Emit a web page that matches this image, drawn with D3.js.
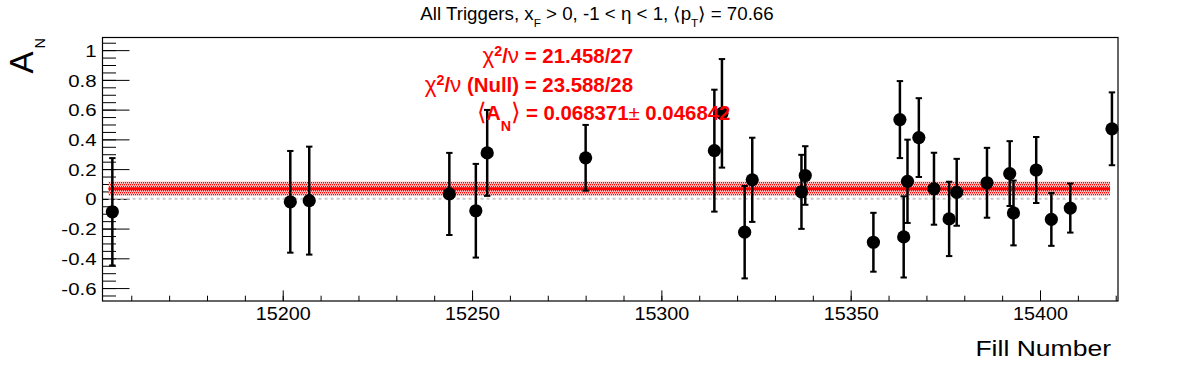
<!DOCTYPE html>
<html>
<head>
<meta charset="utf-8">
<script src="https://cdn.jsdelivr.net/npm/d3@7"></script>
<style>
body { margin: 0; background: #fff; }
text { font-family: "Liberation Sans", Arial, Helvetica, sans-serif; }
</style>
</head>
<body>
<svg id="chart"></svg>
<script>
// fill numbers, asymmetry and its error
var fills = [15155, 15202, 15207, 15244, 15251, 15254, 15280, 15314, 15316, 15322,
             15324, 15337, 15338, 15356, 15363, 15364, 15365, 15368, 15372, 15376,
             15378, 15386, 15392, 15393, 15399, 15403, 15408, 15419];
var asym = [-0.087, -0.020, -0.012, 0.033, -0.080, 0.309, 0.276, 0.324, 0.575, -0.224,
            0.128, 0.047, 0.157, -0.292, 0.533, -0.256, 0.118, 0.412, 0.068, -0.135,
            0.044, 0.108, 0.170, -0.095, 0.194, -0.138, -0.062, 0.471];
var asymErr = [0.361, 0.342, 0.363, 0.276, 0.315, 0.289, 0.221, 0.410, 0.365, 0.311,
               0.283, 0.249, 0.197, 0.198, 0.259, 0.273, 0.280, 0.265, 0.242, 0.250,
               0.225, 0.235, 0.218, 0.218, 0.222, 0.178, 0.165, 0.245];

var fitMean = 0.068371;
var fitErr = 0.046842;
var fitRange = [15154, 15418.5];

var xTicks = [15200, 15250, 15300, 15350, 15400];
var yTicks = [-0.6, -0.4, -0.2, 0, 0.2, 0.4, 0.6, 0.8, 1];

var width = 1196, height = 372;
var padL = 102.5, padR = 1118, padT = 37.5, padB = 301;

var svg = d3.select("#chart").attr("width", width).attr("height", height);

var x = d3.scaleLinear().domain([15152.4, 15420.6]).range([padL, padR]);
var y = d3.scaleLinear().domain([-0.687, 1.085]).range([padB, padT]);

// dotted fill for the fit band (staggered dots on a pale red ground)
var pat = svg.append("defs").append("pattern")
  .attr("id", "dots").attr("width", 2).attr("height", 4)
  .attr("patternUnits", "userSpaceOnUse");
pat.append("rect").attr("width", 2).attr("height", 4).attr("fill", "#ffc4c4");
pat.append("rect").attr("x", 0).attr("y", 0).attr("width", 1).attr("height", 1.4).attr("fill", "#ff0000");
pat.append("rect").attr("x", 1).attr("y", 2).attr("width", 1).attr("height", 1.4).attr("fill", "#ff0000");

// text helper, ROOT text comes out a bit wider than the font
function label(g, px, py, anchor, size, sx, weight, color) {
  return g.append("text")
    .attr("transform", "translate(" + px + "," + py + ") scale(" + sx + ",1)")
    .attr("text-anchor", anchor)
    .style("font-size", size + "px")
    .style("font-weight", weight || "normal")
    .attr("fill", color || "#000");
}

// axes
var yAxis = svg.append("g").attr("transform", "translate(" + padL + ",0)")
  .call(d3.axisLeft(y).tickValues(yTicks).tickSize(-27).tickPadding(6)
    .tickFormat(function(d){ return String(+d.toFixed(1)); }));
svg.append("g").attr("transform", "translate(" + padL + ",0)")
  .call(d3.axisLeft(y).tickValues(d3.range(-13, 22).map(function(i){ return i * 0.05; }))
    .tickSize(-13.5).tickFormat(""));

var xAxis = svg.append("g").attr("transform", "translate(0," + padB + ")")
  .call(d3.axisBottom(x).tickValues(xTicks).tickSize(-10.6).tickPadding(6)
    .tickFormat(d3.format("d")));
svg.append("g").attr("transform", "translate(0," + padB + ")")
  .call(d3.axisBottom(x).tickValues(d3.range(15160, 15421, 10)).tickSize(-5.3).tickFormat(""));

svg.selectAll(".domain").remove();
svg.selectAll(".tick line").attr("stroke", "#000").attr("stroke-width", 1);

yAxis.selectAll(".tick text")
  .attr("x", null).attr("dy", "0.36em")
  .attr("transform", "translate(-6,0) scale(1.2,1)")
  .style("font-size", "17px").attr("fill", "#000");
xAxis.selectAll(".tick text")
  .style("font-size", "19px").attr("fill", "#000")
  .attr("transform", "scale(1.04,1)");

// frame
svg.append("rect")
  .attr("x", padL).attr("y", padT)
  .attr("width", padR - padL).attr("height", padB - padT)
  .attr("fill", "none").attr("stroke", "#000").attr("stroke-width", 1.2);

// zero line
svg.append("line")
  .attr("x1", x(fitRange[0])).attr("x2", x(fitRange[1]))
  .attr("y1", y(0)).attr("y2", y(0))
  .attr("stroke", "#c8c8c8").attr("stroke-width", 2)
  .attr("stroke-dasharray", "3,3");

// fit band and fit line
svg.append("rect")
  .attr("x", x(fitRange[0])).attr("width", x(fitRange[1]) - x(fitRange[0]))
  .attr("y", y(fitMean + fitErr)).attr("height", y(fitMean - fitErr) - y(fitMean + fitErr))
  .attr("fill", "url(#dots)");
svg.append("line")
  .attr("x1", x(fitRange[0])).attr("x2", x(fitRange[1]))
  .attr("y1", y(fitMean)).attr("y2", y(fitMean))
  .attr("stroke", "#ff0000").attr("stroke-width", 3);

// points with error bars
var pts = fills.map(function(f, i){ return {fill: f, a: asym[i], e: asymErr[i]}; });

var bars = svg.append("g").selectAll("g").data(pts).enter().append("g");
bars.append("line")
  .attr("x1", function(d){ return x(d.fill); }).attr("x2", function(d){ return x(d.fill); })
  .attr("y1", function(d){ return y(d.a + d.e); }).attr("y2", function(d){ return y(d.a - d.e); })
  .attr("stroke", "#000").attr("stroke-width", 2.5);
bars.append("line")
  .attr("x1", function(d){ return x(d.fill) - 3.2; }).attr("x2", function(d){ return x(d.fill) + 3.2; })
  .attr("y1", function(d){ return y(d.a + d.e); }).attr("y2", function(d){ return y(d.a + d.e); })
  .attr("stroke", "#000").attr("stroke-width", 2);
bars.append("line")
  .attr("x1", function(d){ return x(d.fill) - 3.2; }).attr("x2", function(d){ return x(d.fill) + 3.2; })
  .attr("y1", function(d){ return y(d.a - d.e); }).attr("y2", function(d){ return y(d.a - d.e); })
  .attr("stroke", "#000").attr("stroke-width", 2);
bars.append("circle")
  .attr("cx", function(d){ return x(d.fill); })
  .attr("cy", function(d){ return y(d.a); })
  .attr("r", 6.6).attr("fill", "#000");

// title
var t = label(svg, 597, 20, "middle", 17.5, 1.07);
t.append("tspan").text("All Triggers, x");
t.append("tspan").attr("dy", 7).style("font-size", "11px").text("F");
t.append("tspan").attr("dy", -7).text(" > 0, -1 < η < 1, ⟨p");
t.append("tspan").attr("dy", 7).style("font-size", "11px").text("T");
t.append("tspan").attr("dy", -7).text("⟩ = 70.66");

// fit results
var s1 = label(svg, 633, 63, "end", 20, 1.02, "bold", "#ff0000");
s1.append("tspan").style("font-weight", "normal").style("font-size", "22px").text("χ");
s1.append("tspan").attr("dy", -7).style("font-size", "14px").text("2");
s1.append("tspan").attr("dy", 7).text("/");
s1.append("tspan").style("font-weight", "normal").style("font-size", "22px").text("ν");
s1.append("tspan").text(" = 21.458/27");

var s2 = label(svg, 633, 91.7, "end", 20, 1.02, "bold", "#ff0000");
s2.append("tspan").style("font-weight", "normal").style("font-size", "22px").text("χ");
s2.append("tspan").attr("dy", -7).style("font-size", "14px").text("2");
s2.append("tspan").attr("dy", 7).text("/");
s2.append("tspan").style("font-weight", "normal").style("font-size", "22px").text("ν");
s2.append("tspan").text(" (Null) = 23.588/28");

var s3 = label(svg, 477, 120, "start", 20, 1.02, "bold", "#ff0000");
s3.append("tspan").style("font-weight", "normal").style("font-size", "24px").text("⟨");
s3.append("tspan").text("A");
s3.append("tspan").attr("dy", 11).style("font-size", "14px").text("N");
s3.append("tspan").attr("dy", -11).style("font-weight", "normal").style("font-size", "24px").text("⟩");
s3.append("tspan").text(" = " + fitMean.toFixed(6));
s3.append("tspan").style("font-weight", "normal").text("±");
s3.append("tspan").text(" " + fitErr.toFixed(6));

// axis titles
var yt = svg.append("text")
  .attr("transform", "translate(33.3,38) rotate(-90)")
  .attr("text-anchor", "end").attr("fill", "#000");
yt.append("tspan").style("font-size", "33px").text("A");
yt.append("tspan").attr("dx", 3).attr("dy", 11.7).style("font-size", "14.5px").text("N");

label(svg, 1111, 356, "end", 22.3, 1.19).text("Fill Number");
</script>
</body>
</html>
